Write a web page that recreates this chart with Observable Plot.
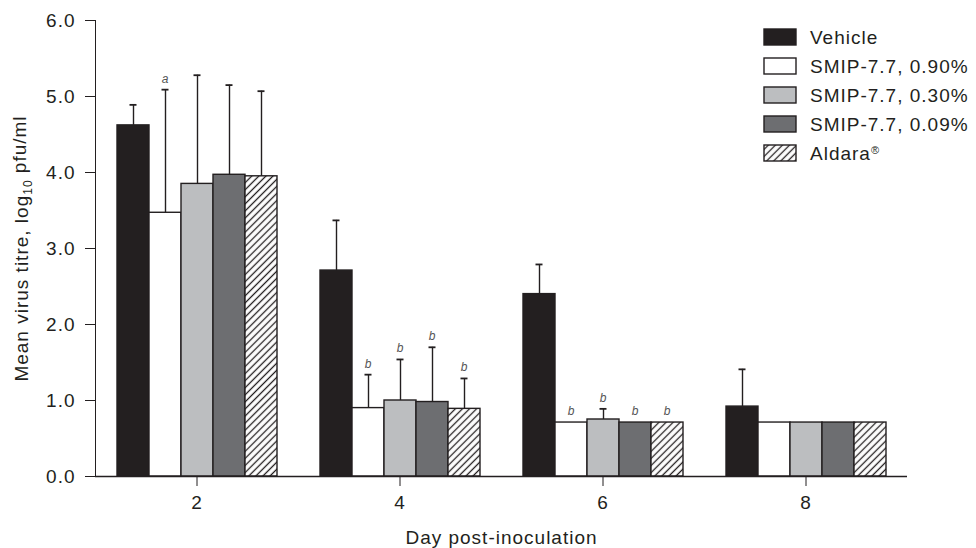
<!DOCTYPE html>
<html><head><meta charset="utf-8">
<script src="https://cdn.jsdelivr.net/npm/d3@7"></script>
<script src="https://cdn.jsdelivr.net/npm/@observablehq/plot@0.6"></script>
<style>body{margin:0;background:#fff} #chart{width:976px;height:548px}</style>
</head><body><div id="chart"></div>
<script>
// ---- data ----
const days = [2, 4, 6, 8];
const treatments = ["Vehicle", "SMIP-7.7, 0.90%", "SMIP-7.7, 0.30%", "SMIP-7.7, 0.09%", "Aldara®"];
const yTicks = [0, 1, 2, 3, 4, 5, 6];

// mean titre per day (2,4,6,8)
const vehicle = [4.62, 2.71, 2.40, 0.92];
const smip090 = [3.47, 0.90, 0.71, 0.71];
const smip030 = [3.85, 1.00, 0.75, 0.71];
const smip009 = [3.97, 0.98, 0.71, 0.71];
const aldara  = [3.95, 0.89, 0.71, 0.71];

// top of error bar (mean + SD); null = no error bar
const vehicleUpper = [4.89, 3.37, 2.79, 1.41];
const smip090Upper = [5.09, 1.34, null, null];
const smip030Upper = [5.28, 1.54, 0.89, null];
const smip009Upper = [5.15, 1.70, null, null];
const aldaraUpper  = [5.07, 1.29, null, null];

// significance letters
const vehicleSig = ["", "", "", ""];
const smip090Sig = ["a", "b", "b", ""];
const smip030Sig = ["", "b", "b", ""];
const smip009Sig = ["", "b", "b", ""];
const aldaraSig  = ["", "b", "b", ""];

const fills = ["#231f20", "#ffffff", "#bcbec0", "#6d6e71", "url(#hatch)"];
const yLabel = "Mean virus titre, log10 pfu/ml";
const xLabel = "Day post-inoculation";

const series = [vehicle, smip090, smip030, smip009, aldara];
const uppers = [vehicleUpper, smip090Upper, smip030Upper, smip009Upper, aldaraUpper];
const sigs = [vehicleSig, smip090Sig, smip030Sig, smip009Sig, aldaraSig];
const rows = [];
treatments.forEach((t, i) => days.forEach((d, j) => rows.push({
  day: d, treatment: t, value: series[i][j], upper: uppers[i][j], sig: sigs[i][j]
})));

const ink = "#231f20";
const plot = Plot.plot({
  width: 976, height: 548,
  marginLeft: 95, marginRight: 69, marginTop: 20, marginBottom: 72,
  style: {fontFamily: "'Liberation Sans', Arial, sans-serif", fontSize: "19px", letterSpacing: "1px", color: ink, background: "#fff"},
  facet: {data: rows, x: "day"},
  fx: {domain: days, padding: 0, axis: "bottom", tickSize: 10, tickPadding: 9,
       label: xLabel, labelAnchor: "center", labelOffset: 67},
  x: {domain: treatments, paddingInner: 0, paddingOuter: 0.625, axis: null},
  y: {domain: [0, 6], ticks: yTicks, tickFormat: d => d.toFixed(1), tickSize: 10, tickPadding: 10,
      line: true, label: yLabel, labelAnchor: "center", labelOffset: 81},
  color: {domain: treatments, range: fills},
  marks: [
    Plot.barY(rows, {x: "treatment", y: "value", fill: "treatment", stroke: ink, strokeWidth: 1.4, inset: 0}),
    Plot.ruleX(rows, {filter: d => d.upper != null, x: "treatment", y1: "value", y2: "upper", stroke: ink, strokeWidth: 1.4}),
    Plot.tickY(rows, {filter: d => d.upper != null, x: "treatment", y: "upper", stroke: ink, strokeWidth: 1.8, insetLeft: 12.5, insetRight: 12.5}),
    Plot.text(rows, {filter: d => d.sig !== "", x: "treatment", y: d => d.upper ?? d.value, text: "sig",
      dy: -11, fontStyle: "italic", fontSize: 12, fill: "#555"}),
    Plot.ruleY([0], {stroke: ink, strokeWidth: 1.4})
  ]
});

const svg = d3.select(plot);
// hatch pattern
const defs = svg.insert("defs", ":first-child");
const pat = defs.append("pattern").attr("id", "hatch").attr("patternUnits", "userSpaceOnUse")
  .attr("width", 5).attr("height", 5).attr("patternTransform", "rotate(45)");
pat.append("rect").attr("width", 5).attr("height", 5).attr("fill", "#fff");
pat.append("line").attr("x1", 2.5).attr("x2", 2.5).attr("y1", -1).attr("y2", 6)
  .attr("stroke", ink).attr("stroke-width", 1.3);

// subscript in y label (and drop the arrow)
svg.selectAll("text").filter(function() { return this.textContent.startsWith("Mean virus"); }).each(function() {
  const t = d3.select(this);
  t.text(null);
  t.append("tspan").text("Mean virus titre, log");
  t.append("tspan").attr("dy", "0.3em").attr("font-size", "12px").text("10");
  t.append("tspan").attr("dy", "-0.3em").text(" pfu/ml");
});
svg.selectAll("text").filter(function() { return this.textContent.startsWith("Day post"); })
  .text(xLabel);

// legend from the color scale
const cs = plot.scale("color");
const lg = svg.append("g").attr("transform", "translate(764,37)").attr("text-anchor", "start");
cs.domain.forEach((name, i) => {
  const g = lg.append("g").attr("transform", `translate(0,${i * 29})`);
  g.append("rect").attr("x", 0).attr("y", -8).attr("width", 32).attr("height", 16)
    .attr("fill", cs.range[i]).attr("stroke", ink).attr("stroke-width", 1.4);
  const t = g.append("text").attr("x", 46).attr("y", 0).attr("dy", "0.35em").attr("fill", ink)
    .attr("text-anchor", "start").attr("font-size", 19);
  if (name.endsWith("®")) {
    t.append("tspan").text(name.slice(0, -1));
    t.append("tspan").attr("dy", "-0.55em").attr("font-size", "11px").text("®");
  } else t.text(name);
});

document.getElementById("chart").appendChild(plot);
</script>
</body></html>
